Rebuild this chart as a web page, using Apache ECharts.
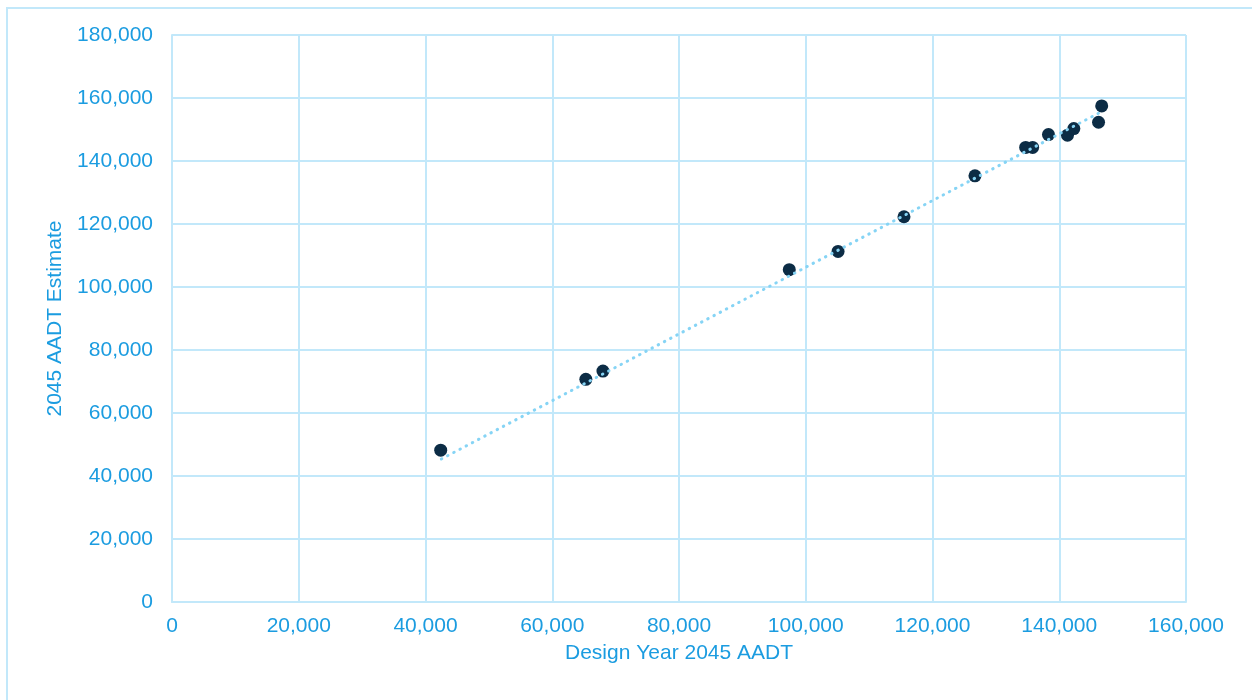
<!DOCTYPE html>
<html>
<head>
<meta charset="utf-8">
<script src="https://cdn.jsdelivr.net/npm/echarts@6/dist/echarts.min.js"></script>
<style>
  html, body { margin: 0; padding: 0; background: #ffffff; }
  #chart { width: 1252px; height: 700px; }
</style>
</head>
<body>
<div id="chart"></div>
<script>
// Design-year AADT vs. 2045 AADT estimate, per location
const designAADT = [42400, 65300, 68000, 97400, 105100, 115500, 126700, 134700, 135800, 138300, 141300, 142300, 146200, 146700];
const estimateAADT = [48200, 70700, 73300, 105500, 111300, 122300, 135300, 144300, 144300, 148400, 148200, 150300, 152300, 157500];

// Linear trendline end points (start and end of the fitted line)
const trendX = [42500, 146600];
const trendY = [45400, 155600];

const xAxisTitle = 'Design Year 2045 AADT';
const yAxisTitle = '2045 AADT Estimate';

const points = designAADT.map((x, i) => [x, estimateAADT[i]]);
const trend = trendX.map((x, i) => [x, trendY[i]]);

const textColor = '#1b9ce0';
const gridColor = '#c2e8fa';
const fmt = v => v.toLocaleString('en-US');
const font = 'Liberation Sans, Arial, sans-serif';
const fs = 21;

const chart = echarts.init(document.getElementById('chart'), null, { renderer: 'canvas' });
chart.setOption({
  backgroundColor: '#ffffff',
  animation: false,
  textStyle: { fontFamily: font },
  graphic: [{
    type: 'rect',
    shape: { x: 7, y: 8, width: 1400, height: 900 },
    style: { fill: 'none', stroke: gridColor, lineWidth: 2 },
    silent: true,
    z: -1
  }],
  grid: { left: 172, right: 66, top: 35, bottom: 98, containLabel: false },
  xAxis: {
    type: 'value',
    min: 0, max: 160000, interval: 20000,
    name: xAxisTitle,
    nameLocation: 'middle',
    nameGap: 41,
    nameTextStyle: { color: textColor, fontSize: fs, fontFamily: font },
    axisLine: { show: true, lineStyle: { color: gridColor, width: 2 } },
    axisTick: { show: false },
    axisLabel: { color: textColor, fontSize: fs, fontFamily: font, margin: 14, formatter: fmt },
    splitLine: { show: true, lineStyle: { color: gridColor, width: 2 } }
  },
  yAxis: {
    type: 'value',
    min: 0, max: 180000, interval: 20000,
    name: yAxisTitle,
    nameLocation: 'middle',
    nameGap: 106,
    nameTextStyle: { color: textColor, fontSize: fs, fontFamily: font },
    axisLine: { show: true, lineStyle: { color: gridColor, width: 2 } },
    axisTick: { show: false },
    axisLabel: { color: textColor, fontSize: fs, fontFamily: font, margin: 19, formatter: fmt },
    splitLine: { show: true, lineStyle: { color: gridColor, width: 2 } }
  },
  series: [
    {
      name: 'AADT',
      type: 'scatter',
      data: points,
      symbol: 'circle',
      symbolSize: 13,
      itemStyle: { color: '#0c2c45', opacity: 1 },
      z: 2
    },
    {
      name: 'Linear trend',
      type: 'line',
      data: trend,
      symbol: 'none',
      lineStyle: { color: '#86d4f5', width: 3, type: [0.5, 6.5], cap: 'round' },
      z: 3
    }
  ]
});
</script>
</body>
</html>
